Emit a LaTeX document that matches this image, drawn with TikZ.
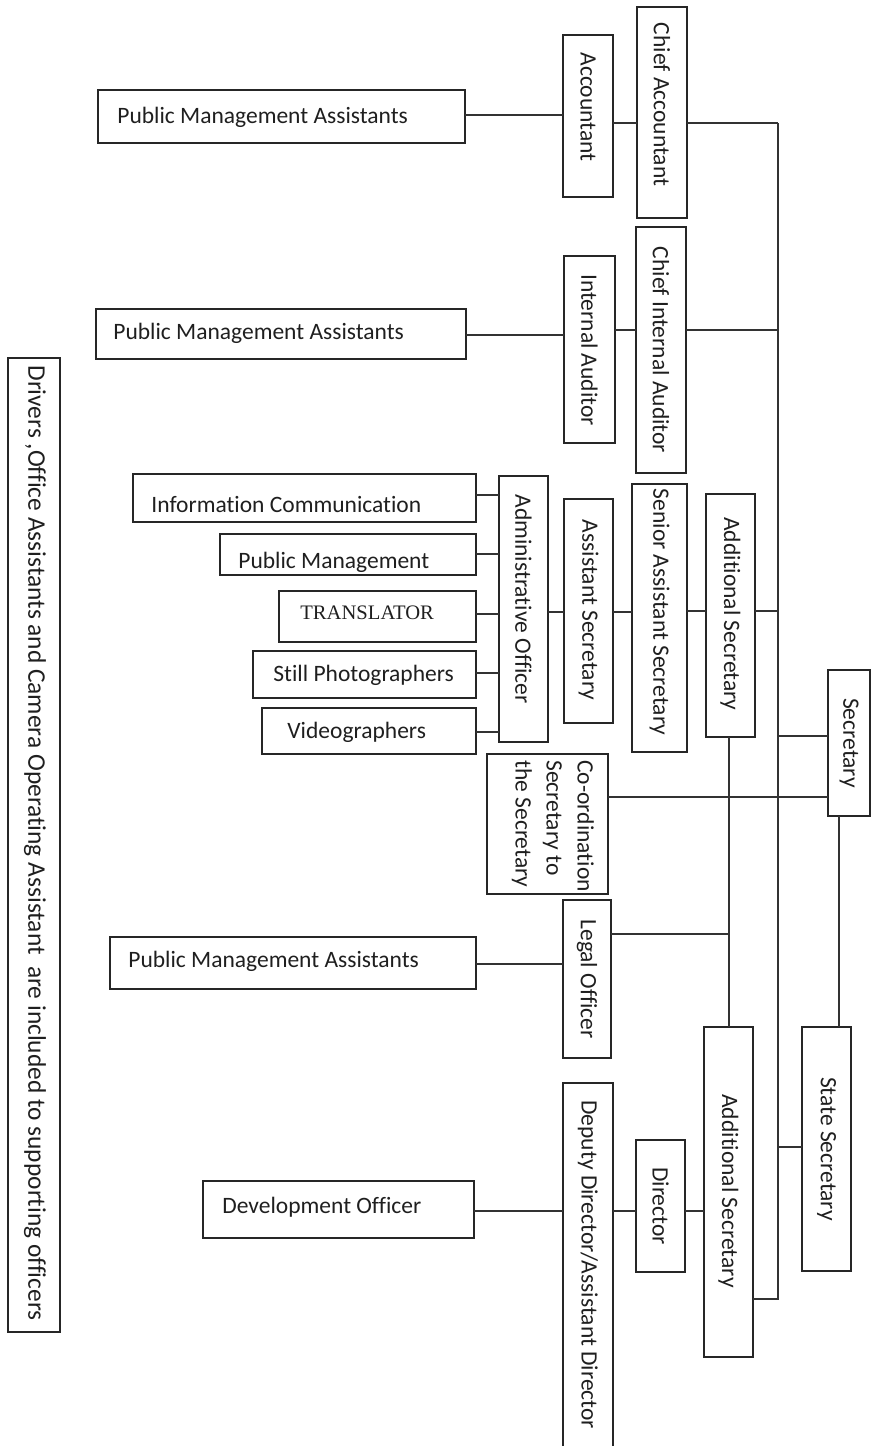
\documentclass[tikz,border=0pt]{standalone}
\usepackage{fontspec}
\setmainfont{Carlito}[Ligatures=NoCommon]
\newfontfamily\timesfont{Liberation Serif}
\usetikzlibrary{fit}
\newcommand\fs{\fontsize{11.75pt}{15.5pt}\selectfont}
\newcommand\bx[5]{\node[box, fit={(#2,#3) (#4,#5)}] (#1) {};}
\begin{document}
\begin{tikzpicture}[x=0.5pt,y=-0.5pt,
  box/.style={draw=black!85, line width=0.7pt, inner sep=0pt, outer sep=0pt},
  conn/.style={draw=black!80, line width=0.65pt},
  vtext/.style={rotate=-90, inner sep=0pt, font=\fs, text=black!88},
  htext/.style={anchor=base west, inner sep=0pt, font=\fs, text=black!88}]
\useasboundingbox (0,0) rectangle (874,1446);
\clip (0,0) rectangle (874,1446);
% boxes
\bx{pmaA}{98}{90}{465}{143}
\node[htext] (pmaAt) at (117,123) {Public Management Assistants};
\bx{acc}{563}{35}{613}{197}
\node[vtext] (acct) at (588,107) {Accountant};
\bx{ca}{637}{7}{687}{218}
\node[vtext] (cat) at (662,104.5) {Chief Accountant};
\bx{pmaB}{96}{309}{466}{359}
\node[htext] (pmaBt) at (113,339) {Public Management Assistants};
\bx{ia}{564}{256}{615}{443}
\node[vtext] (iat) at (589.5,350) {Internal Auditor};
\bx{cia}{636}{227}{686}{473}
\node[vtext] (ciat) at (661,350) {Chief Internal Auditor};
\bx{ic}{133}{474}{476}{522}
\node[htext] (ict) at (151,512) {Information Communication};
\bx{pm}{220}{534}{476}{575}
\begin{scope}
\clip (pm.south west) rectangle (pm.north east);
\node[htext] (pmt) at (238,568) {Public Management};
\end{scope}
\bx{tr}{279}{591}{476}{642}
\node[htext, font=\timesfont\fontsize{10.3pt}{12pt}\selectfont] (trt) at (300,619) {TRANSLATOR};
\bx{sp}{253}{651}{476}{698}
\node[htext] (spt) at (273,681) {Still Photographers};
\bx{vg}{262}{708}{476}{754}
\node[htext] (vgt) at (287,738) {Videographers};
\bx{ao}{499}{476}{548}{742}
\node[vtext] (aot) at (523.5,599) {Administrative Officer};
\bx{as}{564}{499}{613}{723}
\node[vtext] (ast) at (588.5,610) {Assistant Secretary};
\bx{sas}{632}{484}{687}{752}
\node[vtext] (sast) at (659.5,612) {Senior Assistant Secretary};
\bx{asA}{706}{494}{755}{737}
\node[vtext] (asAt) at (730.5,614) {Additional Secretary};
\bx{sec}{828}{670}{870}{816}
\node[vtext] (sect) at (849,743) {Secretary};
\bx{cs}{487}{754}{608}{894}
\node[vtext, anchor=west, align=left] (cst) at (553,760) {Co-ordination\\Secretary to\\the Secretary};
\bx{lo}{563}{900}{611}{1058}
\node[vtext] (lot) at (587,979) {Legal Officer};
\bx{pmaC}{110}{937}{476}{989}
\node[htext] (pmaCt) at (128,967) {Public Management Assistants};
\bx{dd}{563}{1083}{613}{1470}
\node[vtext, anchor=west] (ddt) at (588,1100) {Deputy Director/Assistant Director};
\bx{dir}{636}{1140}{685}{1272}
\node[vtext] (dirt) at (660.5,1206) {Director};
\bx{asB}{704}{1027}{753}{1357}
\node[vtext] (asBt) at (728.5,1191) {Additional Secretary};
\bx{ss}{802}{1027}{851}{1271}
\node[vtext] (sst) at (826.5,1149) {State Secretary};
\bx{dev}{203}{1181}{474}{1238}
\node[htext] (devt) at (222,1213) {Development Officer};
\bx{note}{8}{358}{60}{1332}
\node[vtext, anchor=west, font=\fontsize{12.7pt}{15pt}\selectfont] (notet) at (35,365) {Drivers ,Office Assistants and Camera Operating Assistant\ \ are included to supporting officers};
% connectors
\coordinate (spT) at (778,123);
\coordinate (spB) at (778,1299);
\coordinate (lj) at (729,934);
\draw[conn] (pmaA.east |- 0,115) -- (acc.west |- 0,115);
\draw[conn] (acc.east |- 0,123) -- (ca.west |- 0,123);
\draw[conn] (ca.east |- 0,123) -- (spT);
\draw[conn] (spT) -- (spB) -- (asB.east |- spB);
\draw[conn] (pmaB.east |- 0,335) -- (ia.west |- 0,335);
\draw[conn] (ia.east |- 0,330) -- (cia.west |- 0,330);
\draw[conn] (cia.east |- 0,330) -- (spT |- 0,330);
\draw[conn] (ic.east |- 0,495) -- (ao.west |- 0,495);
\draw[conn] (pm.east |- 0,554) -- (ao.west |- 0,554);
\draw[conn] (tr.east |- 0,614) -- (ao.west |- 0,614);
\draw[conn] (sp.east |- 0,673) -- (ao.west |- 0,673);
\draw[conn] (vg.east |- 0,732) -- (ao.west |- 0,732);
\draw[conn] (ao.east |- 0,612) -- (as.west |- 0,612);
\draw[conn] (as.east |- 0,612) -- (sas.west |- 0,612);
\draw[conn] (sas.east |- 0,611) -- (asA.west |- 0,611);
\draw[conn] (asA.east |- 0,611) -- (spT |- 0,611);
\draw[conn] (spT |- 0,736) -- (sec.west |- 0,736);
\draw[conn] (cs.east |- 0,797) -- (sec.west |- 0,797);
\draw[conn] (asA.south -| lj) -- (asB.north -| lj);
\draw[conn] (lo.east |- lj) -- (lj);
\draw[conn] (pmaC.east |- 0,964) -- (lo.west |- 0,964);
\draw[conn] (sec.south -| 839,0) -- (ss.north -| 839,0);
\draw[conn] (ss.west |- 0,1147) -- (spT |- 0,1147);
\draw[conn] (asB.west |- 0,1211) -- (dir.east |- 0,1211);
\draw[conn] (dir.west |- 0,1211) -- (dd.east |- 0,1211);
\draw[conn] (dd.west |- 0,1211) -- (dev.east |- 0,1211);
\end{tikzpicture}
\end{document}
